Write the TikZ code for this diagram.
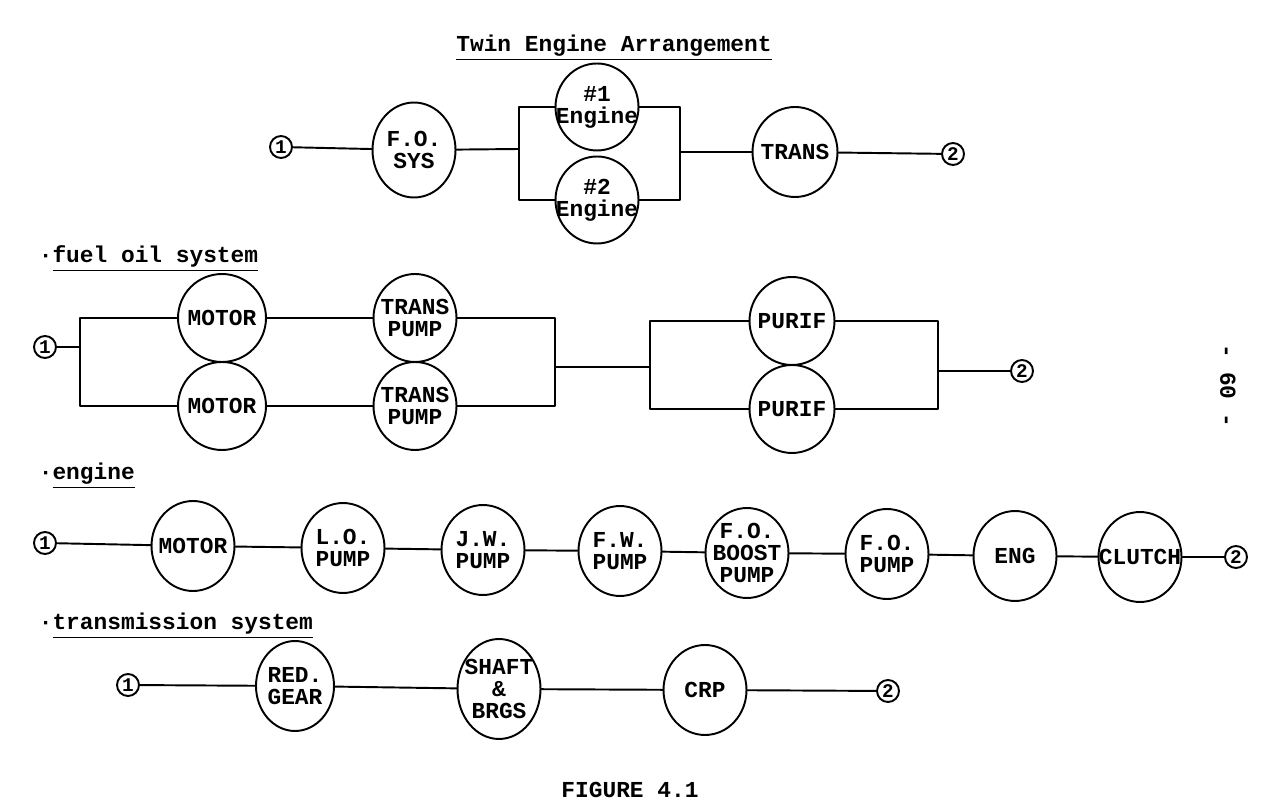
\documentclass[tikz,border=0pt]{standalone}
\usepackage{fontspec}
\setmonofont{Liberation Mono}
\usetikzlibrary{shapes.geometric}
\tikzset{
  blk/.style={draw, ellipse, inner sep=-0.6cm, minimum width=1.66cm, minimum height=1.8cm, align=center},
  term/.style={draw, circle, inner sep=0pt, minimum size=0.44cm, font=\ttfamily\bfseries\fontsize{11}{11}\selectfont},
  sec/.style={anchor=base west}
}
\begin{document}
\begin{tikzpicture}[x=0.02cm, y=-0.02cm, line width=1.1pt, line join=round, line cap=round, font=\ttfamily\bfseries\fontsize{13}{12.5}\selectfont]
	\useasboundingbox (0,0) rectangle (1275,803);
	% twin engine arrangement
	\node[anchor=base] (title) at (614,52) {\underline{Twin Engine Arrangement}};
	\node[term] (a1) at (281,147) {1};
	\node[blk, minimum height=1.9cm] (fo) at (414,150) {F.O.\\SYS};
	\node[blk, minimum height=1.74cm] (e1) at (597,107) {\#1\\Engine};
	\node[blk, minimum height=1.74cm] (e2) at (597,200) {\#2\\Engine};
	\node[blk, minimum width=1.7cm] (tr) at (795,152) {TRANS};
	\node[term] (a2) at (953,154) {2};
	\coordinate (j1) at (519,149);
	\coordinate (j2) at (680,152);
	\draw (a1) -- (fo) -- (j1);
	\draw (e1) -| (j1) |- (e2);
	\draw (e1) -| (j2) |- (e2);
	\draw (j2) -- (tr) -- (a2);
	% fuel oil system
	\node[sec] (fos) at (32,263) {·\underline{fuel oil system}};
	\node[term] (b1) at (45,347) {1};
	\node[blk, minimum width=1.76cm, minimum height=1.76cm] (m1) at (222,318) {MOTOR};
	\node[blk, minimum width=1.76cm, minimum height=1.76cm] (m2) at (222,406) {MOTOR};
	\node[blk, minimum height=1.76cm] (p1) at (415,318) {TRANS\\PUMP};
	\node[blk, minimum height=1.76cm] (p2) at (415,406) {TRANS\\PUMP};
	\node[blk, minimum width=1.7cm, minimum height=1.76cm] (u1) at (792,321) {PURIF};
	\node[blk, minimum width=1.7cm, minimum height=1.76cm] (u2) at (792,409) {PURIF};
	\node[term] (b2) at (1022,371) {2};
	\coordinate (k1) at (80,347);
	\coordinate (k2) at (555,367);
	\coordinate (k3) at (650,367);
	\coordinate (k4) at (938,371);
	\draw (b1) -- (k1);
	\draw (m1) -| (k1) |- (m2);
	\draw (m1) -- (p1) -| (k2) |- (p2) -- (m2);
	\draw (k2) -- (k3);
	\draw (u1) -| (k3) |- (u2);
	\draw (u1) -| (k4) |- (u2);
	\draw (k4) -- (b2);
	\node[rotate=-90] (pg) at (1228,386) {- 60 -};
	% engine
	\node[sec] (eng) at (32,480) {·\underline{engine}};
	\node[term] (c1) at (45,543) {1};
	\node[blk] (c2) at (193,546) {MOTOR};
	\node[blk] (c3) at (343,548) {L.O.\\PUMP};
	\node[blk] (c4) at (483,550) {J.W.\\PUMP};
	\node[blk] (c5) at (620,551) {F.W.\\PUMP};
	\node[blk] (c6) at (747,553) {F.O.\\BOOST\\PUMP};
	\node[blk] (c7) at (887,554) {F.O.\\PUMP};
	\node[blk] (c8) at (1015,556) {ENG};
	\node[blk] (c9) at (1140,557) {CLUTCH};
	\node[term] (c10) at (1236,557) {2};
	\draw (c1) -- (c2) -- (c3) -- (c4) -- (c5) -- (c6) -- (c7) -- (c8) -- (c9) -- (c10);
	% transmission system
	\node[sec] (trs) at (32,630) {·\underline{transmission system}};
	\node[term] (d1) at (128,685) {1};
	\node[blk, minimum width=1.56cm] (d2) at (295,686) {RED.\\GEAR};
	\node[blk, minimum height=2cm] (d3) at (499,689) {SHAFT\\\&\\BRGS};
	\node[blk] (d4) at (705,690) {CRP};
	\node[term] (d5) at (888,691) {2};
	\draw (d1) -- (d2) -- (d3) -- (d4) -- (d5);
	\node[anchor=base] (fig) at (630,797) {FIGURE 4.1};
\end{tikzpicture}
\end{document}
